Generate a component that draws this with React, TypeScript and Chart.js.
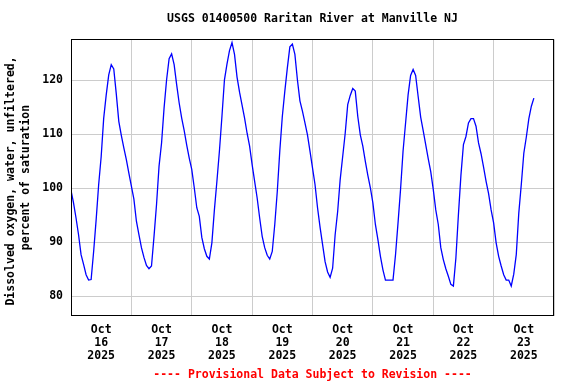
import React, { useEffect, useRef } from 'react';
import { Chart, registerables } from 'chart.js';

Chart.register(...registerables);

// ---- text ----
const titleText = 'USGS 01400500 Raritan River at Manville NJ';
const footerText = '---- Provisional Data Subject to Revision ----';
const yTitleLines = ['Dissolved oxygen, water, unfiltered, ', 'percent of saturation'];
const monthLabel = 'Oct';
const yearLabel = '2025';
const dayLabels = ['16', '17', '18', '19', '20', '21', '22', '23'];
const yTickValues = [80, 90, 100, 110, 120];

// ---- hourly values (percent of saturation), hour 0 = Oct 16 00:00 ----
const oct16 = [99.6, 97.3, 94.5, 91.4, 87.7, 85.9, 84.0, 83.0, 83.1, 88.3, 94.2, 100.7, 105.9, 113.0, 117.3, 121.0, 122.9, 122.1, 117.5, 112.4, 109.8, 107.5, 105.3, 102.8];
const oct17 = [100.4, 98.0, 93.9, 91.4, 89.0, 87.2, 85.7, 85.1, 85.6, 91.1, 97.0, 104.1, 108.4, 114.9, 120.1, 124.0, 124.9, 122.9, 119.2, 115.8, 113.0, 110.7, 108.0, 105.6];
const oct18 = [103.5, 100.1, 96.4, 94.8, 90.9, 88.8, 87.4, 86.9, 89.9, 96.0, 101.3, 106.9, 113.3, 120.1, 123.0, 125.5, 127.0, 124.8, 120.6, 117.8, 115.4, 113.0, 110.2, 107.8];
const oct19 = [104.4, 101.3, 98.2, 94.5, 91.1, 89.0, 87.6, 86.9, 88.3, 93.3, 99.4, 106.9, 113.3, 118.0, 122.3, 126.2, 126.7, 124.8, 120.1, 116.2, 114.3, 112.1, 109.9, 106.9];
const oct20 = [103.8, 100.7, 96.4, 92.8, 89.6, 86.4, 84.5, 83.5, 85.2, 91.4, 95.7, 101.6, 105.9, 110.2, 115.5, 117.2, 118.5, 118.0, 113.3, 109.9, 107.8, 105.0, 102.4, 100.1];
const oct21 = [97.3, 93.3, 90.5, 87.4, 84.9, 83.0, 83.0, 83.0, 83.0, 87.7, 93.6, 99.8, 106.9, 112.1, 117.3, 120.9, 122.0, 120.9, 117.0, 113.2, 110.7, 108.1, 105.5, 103.1];
const oct22 = [99.8, 96.0, 93.3, 89.0, 86.8, 85.1, 83.7, 82.2, 81.9, 87.1, 95.1, 102.4, 108.1, 109.6, 112.1, 112.9, 112.9, 111.5, 108.4, 106.4, 103.9, 101.3, 99.0, 96.0];
const oct23 = [93.6, 89.9, 87.4, 85.6, 84.0, 83.0, 83.0, 81.9, 84.1, 87.7, 95.4, 100.7, 106.5, 109.5, 112.9, 115.2, 116.7];

const hourlyValues = [...oct16, ...oct17, ...oct18, ...oct19, ...oct20, ...oct21, ...oct22, ...oct23];

const FONT_FAMILY = '"DejaVu Sans Mono", "Liberation Mono", monospace';

const framePlugin = {
  id: 'frame',
  afterDraw(chart: any) {
    const { ctx, chartArea: a } = chart;
    ctx.save();
    ctx.strokeStyle = '#000000';
    ctx.lineWidth = 1;
    const l = Math.round(a.left) + 0.5;
    const t = Math.round(a.top) + 0.5;
    const r = Math.round(a.right) - 0.5;
    const b = Math.round(a.bottom) - 0.5;
    ctx.strokeRect(l, t, r - l, b - t);
    ctx.restore();
  },
};

export default function App() {
  const ref = useRef<HTMLCanvasElement>(null);

  useEffect(() => {
    const font = { family: FONT_FAMILY, size: 11.5, weight: 'bold' as const, lineHeight: 1.2 };
    const xTicks: number[] = [];
    for (let h = 0; h <= dayLabels.length * 24; h += 12) xTicks.push(h);

    const chart = new Chart(ref.current!, {
      type: 'line',
      data: {
        datasets: [
          {
            data: hourlyValues.map((v, i) => ({ x: i, y: v })),
            borderColor: '#0000ff',
            borderWidth: 1.3,
            pointRadius: 0,
            tension: 0,
            fill: false,
          },
        ],
      },
      options: {
        animation: false,
        responsive: false,
        devicePixelRatio: 1,
        layout: { padding: { left: 0, right: 22, top: 0, bottom: 0 } },
        plugins: {
          legend: { display: false },
          tooltip: { enabled: false },
          title: {
            display: true,
            text: titleText,
            fullSize: false,
            color: '#000000',
            font,
            padding: { top: 12.6, bottom: 12.9 },
          },
          subtitle: {
            display: true,
            position: 'bottom',
            text: footerText,
            fullSize: false,
            color: '#ff0000',
            font,
            padding: { top: 0, bottom: 2 },
          },
        },
        scales: {
          x: {
            type: 'linear',
            min: 0,
            max: dayLabels.length * 24,
            afterBuildTicks: (scale: any) => {
              scale.ticks = xTicks.map((v) => ({ value: v }));
            },
            afterFit: (scale: any) => {
              scale.height = 52.5;
            },
            grid: {
              drawTicks: false,
              color: (ctx: any) =>
                ctx.tick && ctx.tick.value % 24 === 0 ? '#cccccc' : 'rgba(0,0,0,0)',
              lineWidth: 1,
            },
            border: { display: false },
            ticks: {
              autoSkip: false,
              maxRotation: 0,
              minRotation: 0,
              padding: 8,
              color: '#000000',
              font: { family: FONT_FAMILY, size: 11.5, weight: 'bold', lineHeight: 1.13 },
              callback: (value: any) => {
                const v = Number(value);
                if (v % 24 !== 12) return '';
                const d = Math.floor(v / 24);
                return [monthLabel, dayLabels[d], yearLabel];
              },
            },
          },
          y: {
            type: 'linear',
            min: 76.4,
            max: 127.6,
            afterBuildTicks: (scale: any) => {
              scale.ticks = yTickValues.map((v) => ({ value: v }));
            },
            afterFit: (scale: any) => {
              scale.width = 71;
            },
            grid: { drawTicks: false, color: '#cccccc', lineWidth: 1 },
            border: { display: false },
            ticks: {
              padding: 8,
              color: '#000000',
              font: { family: FONT_FAMILY, size: 11.5, weight: 'bold' },
            },
            title: {
              display: true,
              text: yTitleLines,
              color: '#000000',
              font: { family: FONT_FAMILY, size: 11.5, weight: 'bold', lineHeight: 1.3 },
              padding: { top: 3.5, bottom: 0 },
            },
          },
        },
      },
      plugins: [framePlugin],
    } as any);

    return () => chart.destroy();
  }, []);

  return (
    <div style={{ position: 'fixed', left: 0, top: 0, width: 576, height: 384, background: '#ffffff' }}>
      <canvas ref={ref} width={576} height={384} style={{ display: 'block', width: 576, height: 384 }} />
    </div>
  );
}
